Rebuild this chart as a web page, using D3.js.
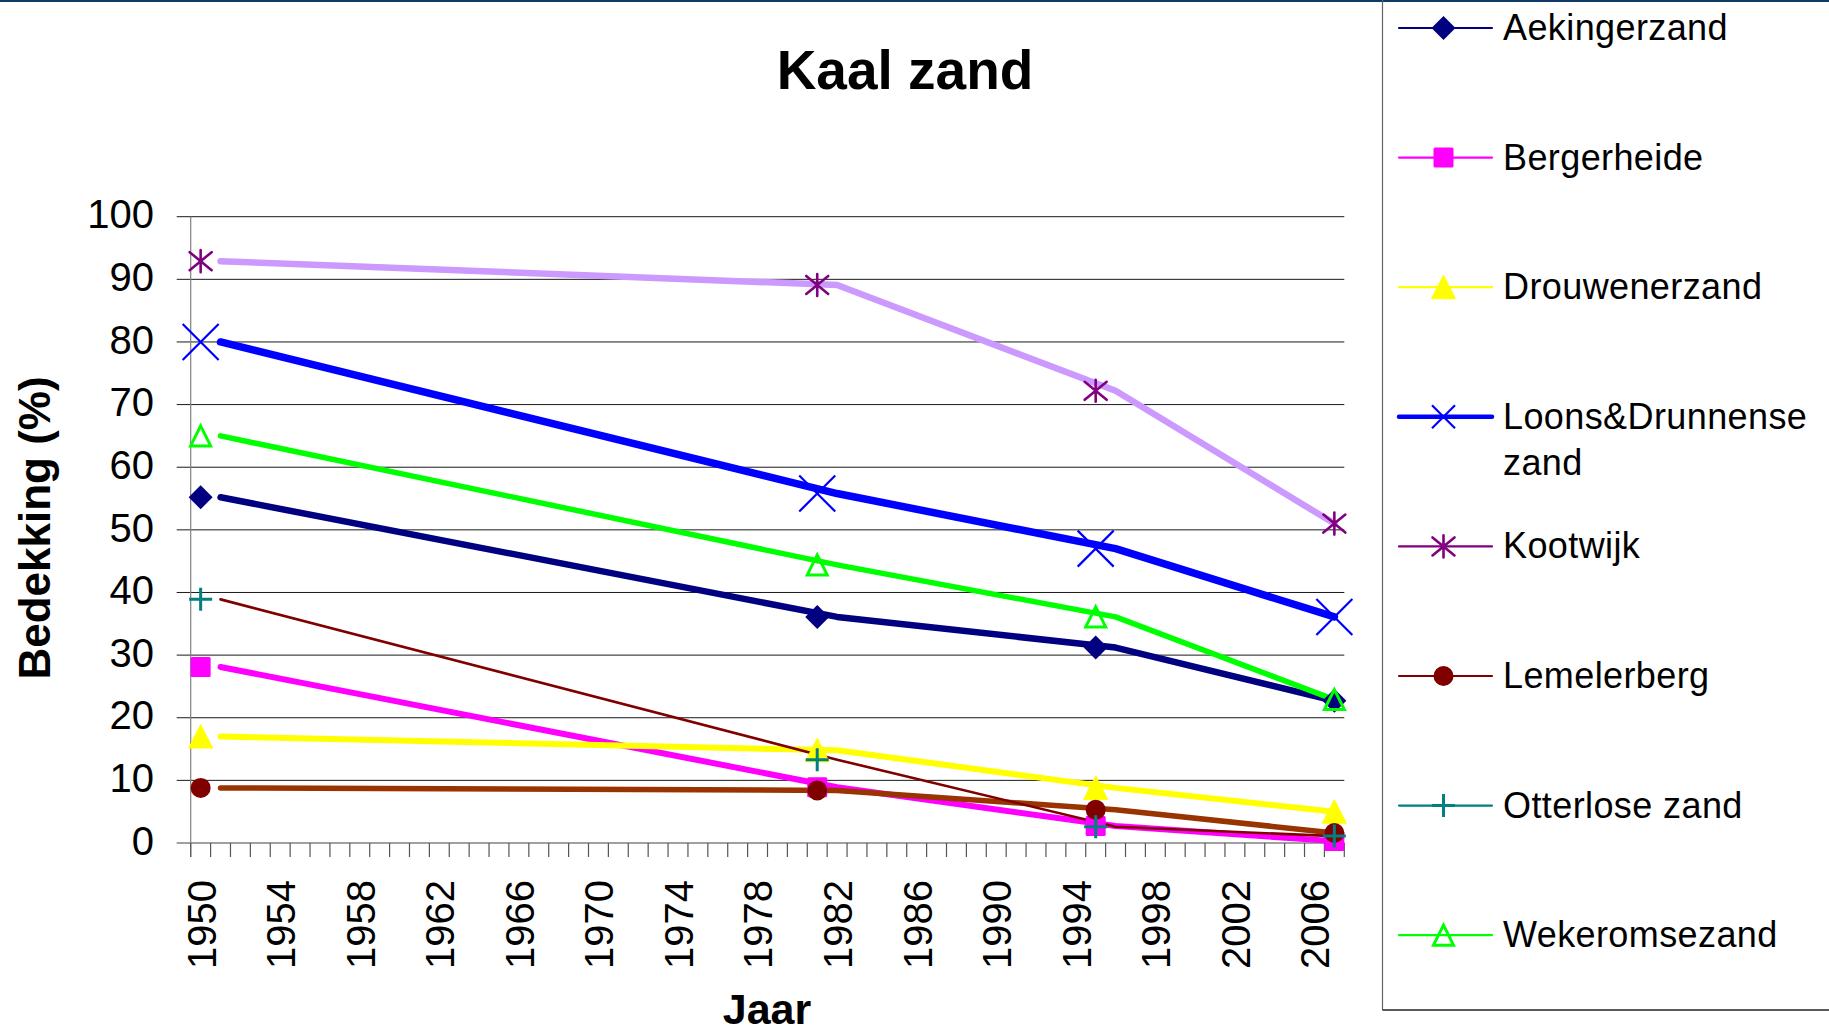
<!DOCTYPE html>
<html>
<head>
<meta charset="utf-8">
<script src="https://cdn.jsdelivr.net/npm/d3@7"></script>
<style>
  html, body { margin: 0; padding: 0; background: #fff; }
  svg { display: block; font-family: "Liberation Sans", Arial, sans-serif; }
</style>
</head>
<body>
<svg id="chart" width="1829" height="1035"></svg>
<script>
// ---- data ----
const markerYears = [1950, 1981, 1995, 2007];
const lineYears = [1951, 1982, 1996, 2007];
const seriesNames = ["Aekingerzand", "Bergerheide", "Drouwenerzand", "Loons&Drunnense zand",
                     "Kootwijk", "Lemelerberg", "Otterlose zand", "Wekeromsezand"];
const aekingerzand = [55.2, 36.1, 31.2, 22.7];
const bergerheide  = [28.1, 8.9, 2.7, 0.3];
const drouwenerzand = [17.0, 14.8, 8.8, 5.0];
const loonsDrunnense = [80.0, 55.8, 47.0, 36.1];
const kootwijk = [92.9, 89.1, 72.2, 51.0];
const lemelerberg = [8.8, 8.4, 5.3, 1.6];
const otterlose = [38.9, 13.3, 2.6, 1.1];
const wekerom = [65.0, 44.4, 36.1, 22.9];
const yTickValues = [0, 10, 20, 30, 40, 50, 60, 70, 80, 90, 100];
const xTickLabels = [1950, 1954, 1958, 1962, 1966, 1970, 1974, 1978, 1982, 1986, 1990, 1994, 1998, 2002, 2006];
const allYears = d3.range(1950, 2008); // category years on the date axis

// ---- styles ----
const styles = [
  {marker: "diamond",  mColor: "#000080", lColor: "#000080", lw: 6.5, legW: 2.2},
  {marker: "square",   mColor: "#FF00FF", lColor: "#FF00FF", lw: 6,   legW: 2.2},
  {marker: "triangle", mColor: "#FFFF00", lColor: "#FFFF00", lw: 6,   legW: 2.2},
  {marker: "x",        mColor: "#0000FF", lColor: "#0000FF", lw: 7.5, legW: 4.5},
  {marker: "star",     mColor: "#800080", lColor: "#CC99FF", lw: 6.5, legW: 2.2},
  {marker: "circle",   mColor: "#800000", lColor: "#993300", lw: 5.5, legW: 2.2},
  {marker: "plus",     mColor: "#008080", lColor: "#800000", lw: 2.6, legW: 2.2},
  {marker: "otri",     mColor: "#00FF00", lColor: "#00FF00", lw: 5.5, legW: 2.2}
];
const seriesValues = [aekingerzand, bergerheide, drouwenerzand, loonsDrunnense,
                      kootwijk, lemelerberg, otterlose, wekerom];

const svg = d3.select("#chart");
const font = '"Liberation Sans", Arial, sans-serif';

// top border bar
svg.append("rect").attr("x", 0).attr("y", 0).attr("width", 1829).attr("height", 2).attr("fill", "#0d3a66");

// ---- scales ----
const plotL = 190.7, plotR = 1344.3, plotT = 216.7, plotB = 843;
const x = d3.scaleLinear().domain([allYears[0] - 0.5, allYears[allYears.length - 1] + 0.5]).range([plotL, plotR]);
const y = d3.scaleLinear().domain([0, 100]).range([plotB, plotT]);

// ---- gridlines + y ticks ----
const gGrid = svg.append("g");
gGrid.selectAll("line").data(yTickValues.filter(v => v > 0)).join("line")
  .attr("x1", plotL - 14).attr("x2", plotR)
  .attr("y1", d => y(d)).attr("y2", d => y(d))
  .attr("stroke", "#1a1a1a").attr("stroke-width", 1);

// y axis with labels
const yAxis = d3.axisLeft(y).tickValues(yTickValues).tickSize(0).tickPadding(0);
const gy = svg.append("g").attr("transform", `translate(154,0)`).call(yAxis);
gy.select(".domain").remove();
gy.selectAll("text").attr("font-size", 40).attr("font-family", font).attr("fill", "#000")
  .attr("dy", "0.28em").attr("x", 0);

// y axis line
svg.append("line").attr("x1", plotL).attr("x2", plotL).attr("y1", plotT).attr("y2", plotB + 14)
  .attr("stroke", "#808080").attr("stroke-width", 1.2);
// x axis line (zero line)
svg.append("line").attr("x1", plotL - 14).attr("x2", plotR).attr("y1", plotB).attr("y2", plotB)
  .attr("stroke", "#808080").attr("stroke-width", 1.5);

// x ticks at category boundaries
const boundaries = allYears.map(d => d - 0.5).concat([allYears[allYears.length - 1] + 0.5]);
svg.append("g").selectAll("line").data(boundaries).join("line")
  .attr("x1", d => x(d)).attr("x2", d => x(d))
  .attr("y1", plotB).attr("y2", plotB + 14)
  .attr("stroke", "#555").attr("stroke-width", 1.2);

// x labels rotated
const xAxis = d3.axisBottom(x).tickValues(xTickLabels).tickFormat(d3.format("d")).tickSize(0);
const gx = svg.append("g").attr("transform", `translate(0,${plotB})`).call(xAxis);
gx.select(".domain").remove();
gx.selectAll(".tick text")
  .attr("font-size", 40).attr("font-family", font).attr("fill", "#000")
  .attr("transform", "translate(0,37) rotate(-90)")
  .attr("text-anchor", "end").attr("x", 0).attr("y", 0).attr("dy", "0.36em");

// ---- titles ----
svg.append("text").attr("x", 905).attr("y", 89).attr("text-anchor", "middle")
  .attr("font-size", 55).attr("font-weight", "bold").attr("font-family", font).text("Kaal zand");
svg.append("text").attr("transform", "translate(50,528) rotate(-90)").attr("text-anchor", "middle")
  .attr("font-size", 44).attr("font-weight", "bold").attr("font-family", font).text("Bedekking (%)");
svg.append("text").attr("x", 767).attr("y", 1024).attr("text-anchor", "middle")
  .attr("font-size", 43).attr("font-weight", "bold").attr("font-family", font).text("Jaar");

// ---- marker drawing ----
function drawMarker(g, type, color, cx, cy, big) {
  const m = g.append("g").attr("transform", `translate(${cx},${cy})`);
  switch (type) {
    case "diamond":
      m.append("path").attr("d", "M0,-12L12,0L0,12L-12,0Z").attr("fill", color); break;
    case "square":
      m.append("rect").attr("x", -10).attr("y", -10).attr("width", 20).attr("height", 20)
        .attr("rx", 1.5).attr("fill", color); break;
    case "triangle":
      m.append("path").attr("d", "M0,-12L12,11.5L-12,11.5Z").attr("fill", color)
        .attr("stroke", color).attr("stroke-width", 1).attr("stroke-linejoin", "round"); break;
    case "otri":
      m.append("path").attr("d", "M0,-10L10,10L-10,10Z").attr("fill", "none")
        .attr("stroke", color).attr("stroke-width", 3); break;
    case "x": {
      const h = big ? 18 : 11.5;
      m.append("path").attr("d", `M${-h},${-h}L${h},${h}M${-h},${h}L${h},${-h}`)
        .attr("stroke", color).attr("stroke-width", 2.2).attr("fill", "none"); break;
    }
    case "star":
      m.append("path").attr("d", "M0,-11L0,11M-11,-9L11,9M-11,9L11,-9")
        .attr("stroke", color).attr("stroke-width", 2.6).attr("stroke-linecap", "round").attr("fill", "none"); break;
    case "circle":
      m.append("circle").attr("r", 10).attr("fill", color); break;
    case "plus":
      m.append("path").attr("d", "M0,-11.5L0,11.5M-11.5,0L11.5,0")
        .attr("stroke", color).attr("stroke-width", 3).attr("fill", "none"); break;
  }
}

// ---- lines ----
const lineGen = d3.line().x(d => x(d[0])).y(d => y(d[1]));
const gLines = svg.append("g");
seriesValues.forEach((vals, i) => {
  const pts = lineYears.map((yr, j) => [yr, vals[j]]);
  gLines.append("path").attr("d", lineGen(pts)).attr("fill", "none")
    .attr("stroke", styles[i].lColor).attr("stroke-width", styles[i].lw)
    .attr("stroke-linecap", "round").attr("stroke-linejoin", "round");
});

// ---- markers ----
const gMarkers = svg.append("g");
seriesValues.forEach((vals, i) => {
  markerYears.forEach((yr, j) => {
    drawMarker(gMarkers, styles[i].marker, styles[i].mColor, x(yr), y(vals[j]), true);
  });
});

// ---- legend ----
const legX = 1382.5, legBottom = 1010;
svg.append("line").attr("x1", legX).attr("x2", legX).attr("y1", 0).attr("y2", legBottom)
  .attr("stroke", "#666").attr("stroke-width", 1.2);
svg.append("line").attr("x1", legX).attr("x2", 1829).attr("y1", legBottom).attr("y2", legBottom)
  .attr("stroke", "#222").attr("stroke-width", 1.5);

const legendY0 = 28, legendStep = 129.6;
const gLeg = svg.append("g");
seriesNames.forEach((name, i) => {
  const ly = legendY0 + i * legendStep;
  gLeg.append("line").attr("x1", 1399).attr("x2", 1492).attr("y1", ly).attr("y2", ly)
    .attr("stroke", styles[i].mColor).attr("stroke-width", styles[i].legW).attr("stroke-linecap", "round");
  drawMarker(gLeg, styles[i].marker, styles[i].mColor, 1443.5, ly, false);
  const t = gLeg.append("text").attr("x", 1503).attr("y", ly + 12)
    .attr("font-size", 36).attr("font-family", font).attr("fill", "#000")
    .attr("letter-spacing", 0.4);
  if (name === "Loons&Drunnense zand") {
    t.append("tspan").attr("x", 1503).text("Loons&Drunnense");
    t.append("tspan").attr("x", 1503).attr("dy", 46.5).text("zand");
  } else {
    t.text(name);
  }
});
</script>
</body>
</html>
